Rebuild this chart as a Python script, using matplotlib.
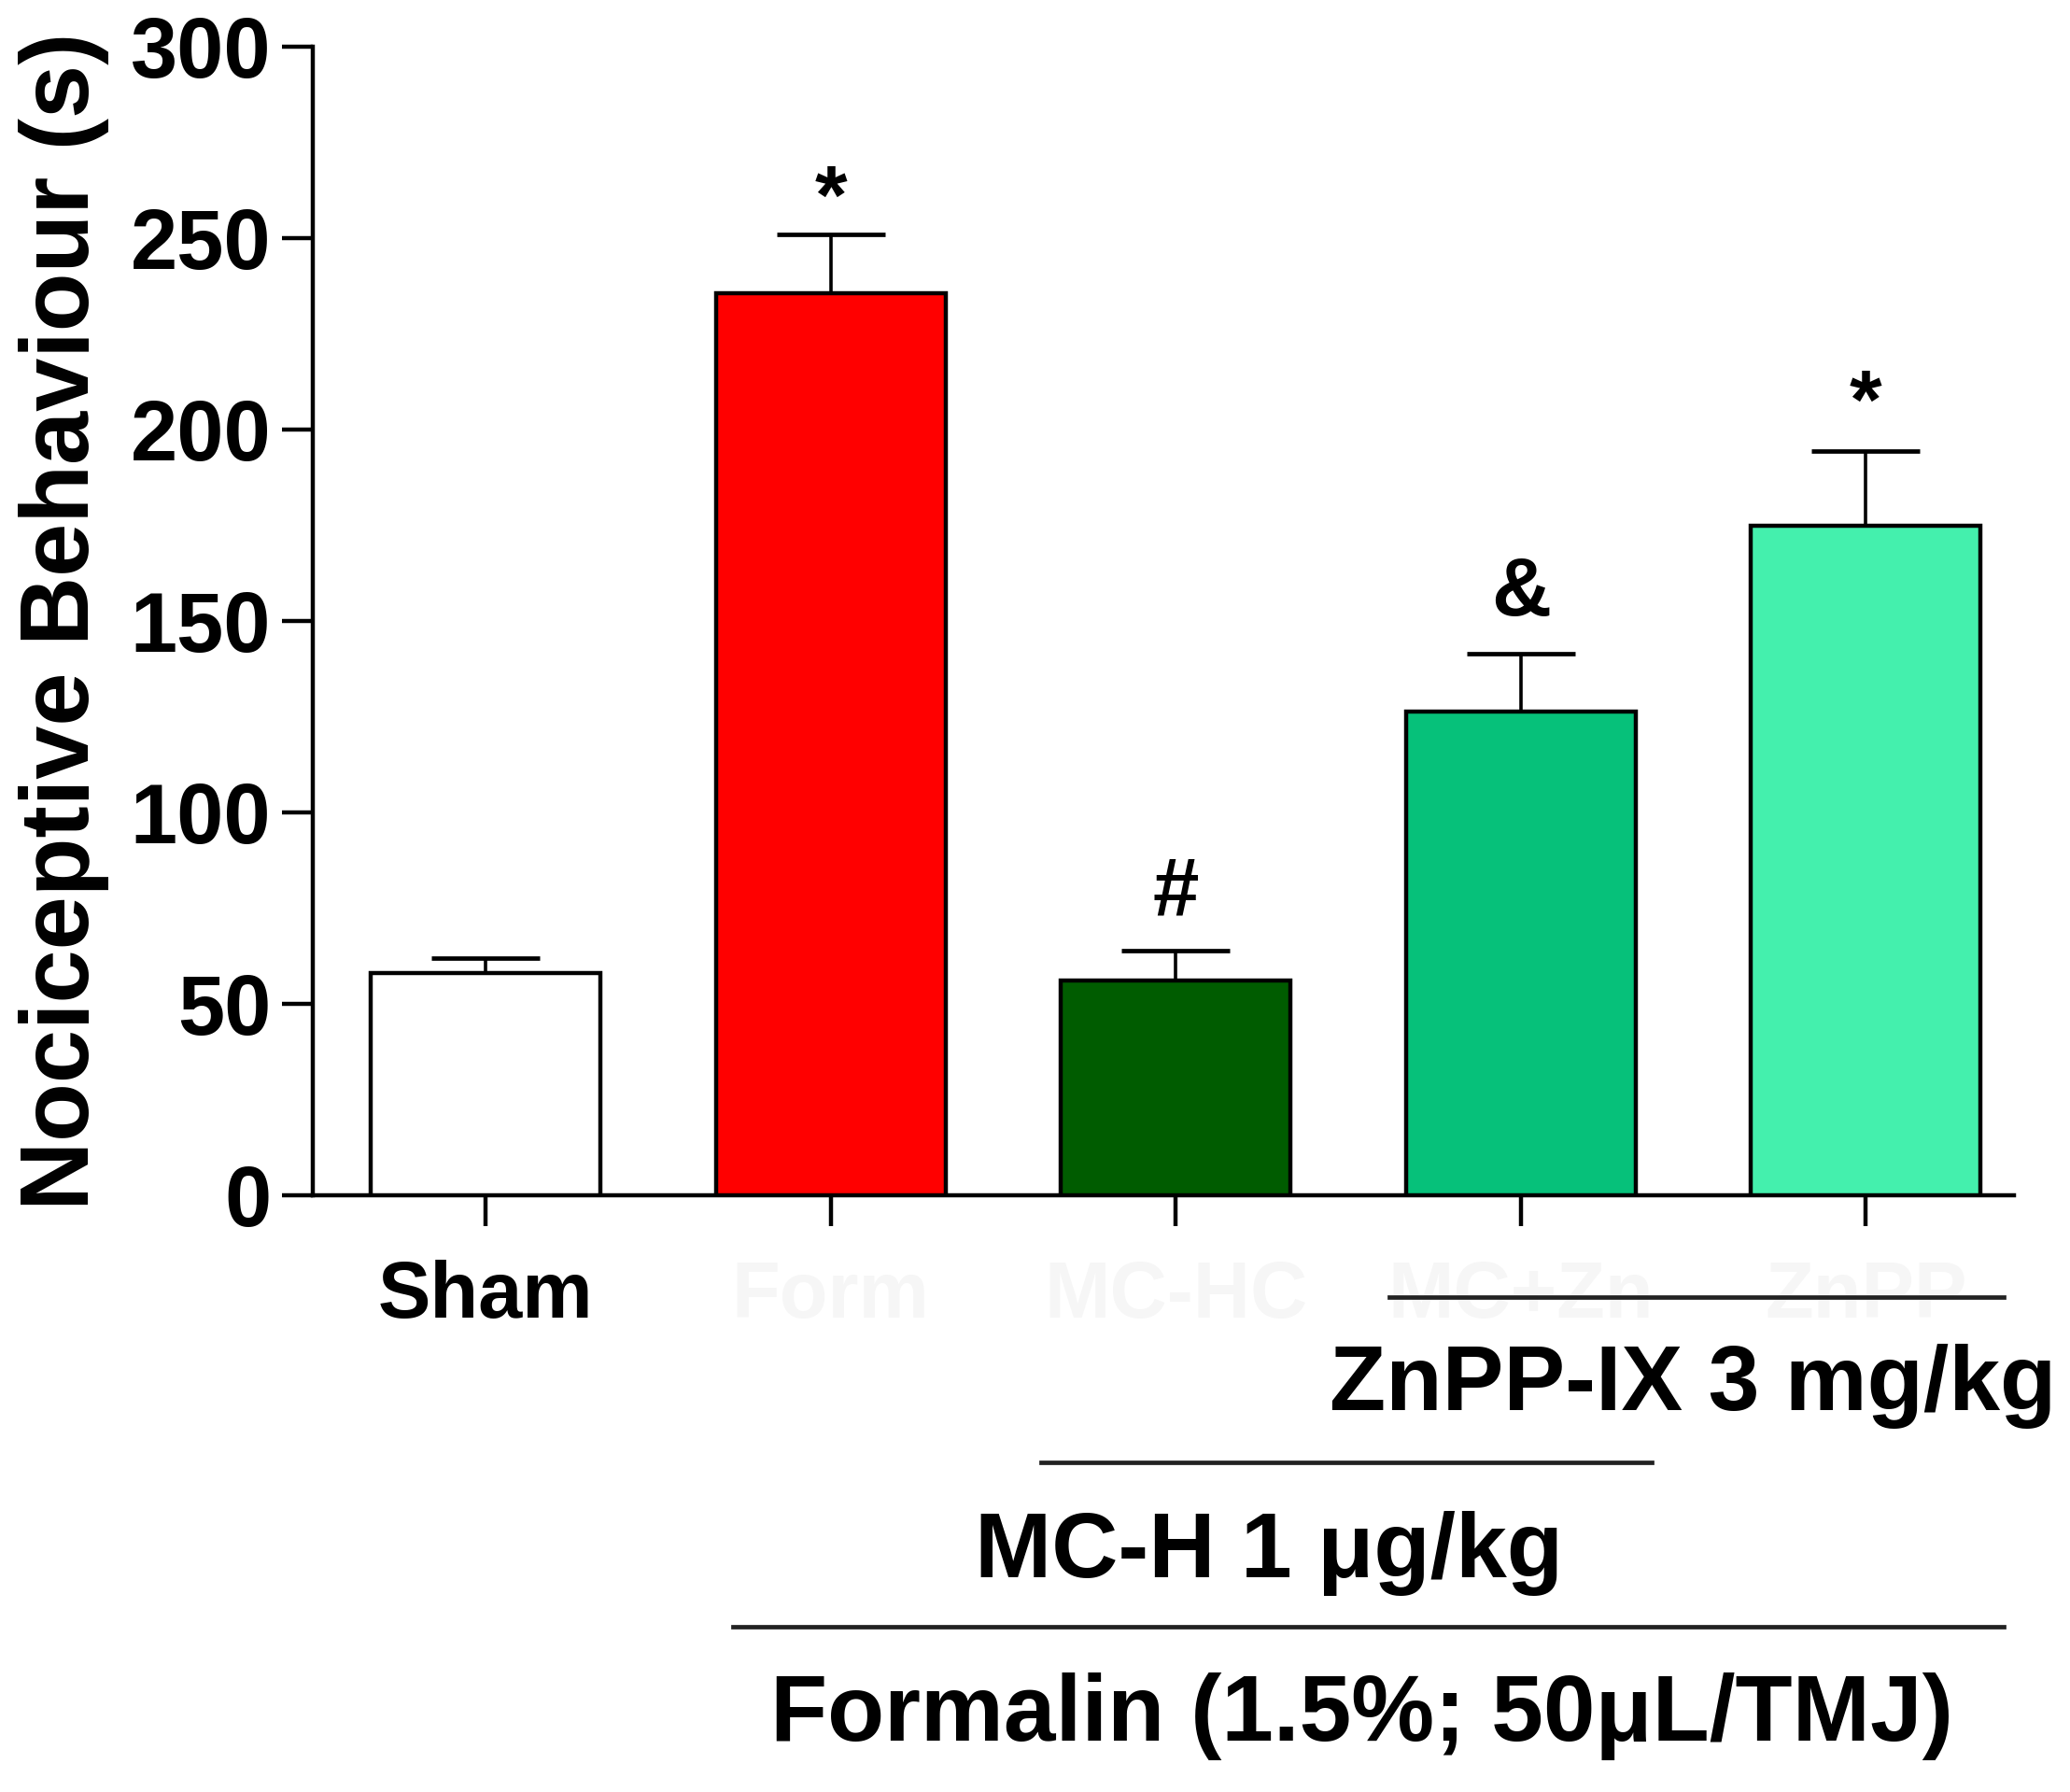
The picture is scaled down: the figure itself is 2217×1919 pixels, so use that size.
import numpy as np
import matplotlib.pyplot as plt

plt.rcParams['font.family'] = ['Liberation Sans', 'DejaVu Sans']
plt.rcParams['font.weight'] = 'bold'

# data
groups = ['Sham', 'Form', 'MC-HC', 'MC+Zn', 'ZnPP']
means = [58, 235.5, 56, 126.3, 174.8]
sem = [4, 15.5, 7.8, 15.1, 19.5]
colors = ['#ffffff', '#ff0000', '#005c00', '#06c17a', '#44f0ad']
marks = ['', '*', '#', '&', '*']
mark_y = [0, 254, 73, 151.5, 200.5]

# treatment lines under the axis: (label, x start, x end, line y, text x, text y)
treat_labels = ['ZnPP-IX 3 mg/kg', 'MC-H 1 \u03bcg/kg', 'Formalin (1.5%; 50\u03bcL/TMJ)']
treat_x0 = [2.62, 1.61, 0.716]
treat_x1 = [4.40, 3.38, 4.40]
treat_line_y = [-26.5, -69.8, -112.8]
treat_text_x = [3.50, 2.27, 2.54]
treat_text_y = [-50, -93.5, -136]
treat_size = [71, 71, 72]

fig = plt.figure(figsize=(22.17, 19.19), dpi=100)
ax = fig.add_axes([0.151, 0.333, 0.822, 0.641])

x = np.arange(len(groups))
ax.bar(x, means, width=0.667, color=colors, edgecolor='black', linewidth=3.2, zorder=3)
ax.errorbar(x, means, yerr=[np.zeros(len(sem)), sem], fmt='none', ecolor='black',
            elinewidth=2.6, capsize=42, capthick=3.4, zorder=2)

for i in range(len(groups)):
    if marks[i]:
        ax.text(x[i], mark_y[i], marks[i], ha='center', va='baseline',
                fontsize=64, fontweight='bold')

ax.set_xlim(-0.502, 4.43)
ax.set_ylim(0, 300)
ax.set_yticks([0, 50, 100, 150, 200, 250, 300])
ax.set_xticks(x)
ax.set_xticklabels(groups)
for i, lab in enumerate(ax.get_xticklabels()):
    lab.set_color('black' if i == 0 else '#f6f6f6')

ax.spines['top'].set_visible(False)
ax.spines['right'].set_visible(False)
ax.spines['left'].set_linewidth(3.2)
ax.spines['bottom'].set_linewidth(3.2)
ax.tick_params(axis='y', length=24, width=3.2, labelsize=65, pad=8)
ax.tick_params(axis='x', length=24, width=3.2, labelsize=61, pad=26)
for lab in ax.get_yticklabels() + ax.get_xticklabels():
    lab.set_fontweight('bold')

ax.set_ylabel('Nociceptive Behaviour (s)', fontsize=74, fontweight='bold', labelpad=16)

for i in range(len(treat_labels)):
    ax.plot([treat_x0[i], treat_x1[i]], [treat_line_y[i], treat_line_y[i]],
            color='#222222', linewidth=3.4, clip_on=False)
    ax.text(treat_text_x[i], treat_text_y[i], treat_labels[i], ha='center', va='center',
            fontsize=treat_size[i], fontweight='bold', clip_on=False)

fig.savefig('out.png', dpi=100)
